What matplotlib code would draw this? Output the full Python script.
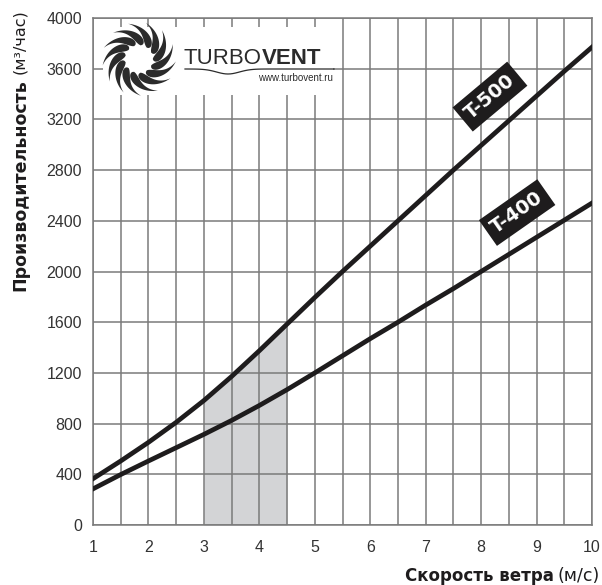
import numpy as np
import matplotlib.pyplot as plt
from matplotlib.patches import Polygon, Rectangle

# wind speed (m/s) and airflow (m3/h)
speed = [1, 1.5, 2, 2.5, 3, 3.5, 4, 4.5, 5, 5.5, 6, 6.5, 7, 7.5, 8, 8.5, 9, 9.5, 10]
t500 = [365, 505, 652, 810, 982, 1172, 1375, 1585, 1795, 2000, 2200, 2400, 2600,
        2800, 2995, 3190, 3385, 3580, 3770]
t400 = [285, 398, 505, 610, 715, 825, 943, 1068, 1200, 1335, 1470, 1600, 1735,
        1865, 2000, 2135, 2270, 2405, 2540]
x_ticks = [1, 2, 3, 4, 5, 6, 7, 8, 9, 10]
y_ticks = [0, 400, 800, 1200, 1600, 2000, 2400, 2800, 3200, 3600, 4000]
shade_from, shade_to = 3, 4.5

W, H = 602, 585


def fpos(x, y):
    # pixel position (from top-left) -> figure fraction
    return x / W, 1 - y / H


fig = plt.figure(figsize=(W / 100, H / 100), dpi=100)
ax = fig.add_axes([93 / W, 1 - 525 / H, 499 / W, 507 / H])

grid_col = '#7a7a7a'
ink = '#1e1c1d'
sp = np.array(speed)
ax.fill_between(sp, 0, t500, where=(sp >= shade_from) & (sp <= shade_to),
                color='#d3d4d6', lw=0, zorder=1)
ax.plot(speed, t500, color=ink, lw=3.4, zorder=4)
ax.plot(speed, t400, color=ink, lw=3.4, zorder=4)

ax.set_xlim(1, 10)
ax.set_ylim(0, 4000)
ax.set_xticks(x_ticks)
ax.set_xticks(np.arange(1, 10.01, 0.5), minor=True)
ax.set_yticks(y_ticks)
ax.grid(True, which='both', color=grid_col, lw=1.1, zorder=2)
ax.set_axisbelow(False)
for s in ax.spines.values():
    s.set_color(grid_col)
    s.set_linewidth(1.1)
ax.tick_params(which='both', length=0)
ax.tick_params(axis='x', pad=11)
ax.tick_params(axis='y', pad=8)
for lab in ax.get_xticklabels() + ax.get_yticklabels():
    lab.set_fontfamily('Liberation Sans')
    lab.set_fontsize(11.5)
    lab.set_color('#333333')

# curve labels
box = dict(boxstyle='square,pad=0.32', fc=ink, ec='none')
ax.text(8.16, 3380, 'T-500', rotation=40, ha='center', va='center', color='white',
        fontsize=14, fontweight='bold', family='DejaVu Sans', zorder=6, bbox=box)
ax.text(8.65, 2465, 'T-400', rotation=35, ha='center', va='center', color='white',
        fontsize=14, fontweight='bold', family='DejaVu Sans', zorder=6, bbox=box)

# axis titles: bold part + plain units right after it
yt = fig.text(*fpos(20, 291), 'Производительность', rotation=90, ha='center',
              va='bottom', fontsize=12.5, fontweight='bold', family='DejaVu Sans',
              color=ink)
fig.add_artist(plt.Annotation('(м³/час)', xy=(0.5, 1), xycoords=yt,
                              xytext=(0, 4), textcoords='offset points',
                              rotation=90, ha='center', va='bottom', fontsize=11.5,
                              family='DejaVu Sans', color=ink))
xt = fig.text(*fpos(600, 581), '(м/с)', ha='right', va='baseline',
              fontsize=12.5, family='DejaVu Sans', color=ink)
fig.canvas.draw()
left_px = xt.get_window_extent().x0
fig.text((left_px - 4) / W, 1 - 581 / H, 'Скорость ветра', ha='right', va='baseline',
         fontsize=12, fontweight='bold', family='DejaVu Sans', color=ink)

# logo: white backing, sun swirl, wordmark
ax.add_patch(Rectangle((1.18, 3390), 4.15, 540, fc='white', ec='none', zorder=3))
tb = fig.text(*fpos(184, 58), 'TURBO', ha='left', va='center', fontsize=16,
              family='Liberation Sans', color='#2b2b2b')
fig.add_artist(plt.Annotation('VENT', xy=(1, 0.5), xycoords=tb, ha='left',
                              va='center', fontsize=16, fontweight='bold',
                              family='Liberation Sans', color='#2b2b2b'))
fig.text(*fpos(333, 78), 'www.turbovent.ru', ha='right', va='center', fontsize=7,
         family='Liberation Sans', color='#2b2b2b')
wx = np.linspace(185, 334, 60)
wy = 69 + 5 * np.exp(-((wx - 228) / 16) ** 2)
fig.add_artist(plt.Line2D(wx / W, 1 - wy / H, color='#2b2b2b', lw=0.9))

sun = fig.add_axes([101 / W, 1 - 98 / H, 76 / W, 78 / H])
sun.set_xlim(-1.05, 1.05)
sun.set_ylim(-1.08, 1.08)
sun.axis('off')
n_blades = 13
tt = np.linspace(0, 1, 30)
for k in range(n_blades):
    a0 = 2 * np.pi * k / n_blades
    r = 0.38 + 0.64 * tt
    ang = a0 + 0.9 * tt ** 1.4
    half = 0.2 * np.sin(np.pi * tt ** 0.6) / (r + 0.3)
    outer = np.column_stack([r * np.cos(ang + half), r * np.sin(ang + half)])
    inner = np.column_stack([r * np.cos(ang - half), r * np.sin(ang - half)])
    sun.add_patch(Polygon(np.vstack([outer, inner[::-1]]), fc='#2b2b2b', ec='none'))

fig.savefig('out.png', dpi=100)
